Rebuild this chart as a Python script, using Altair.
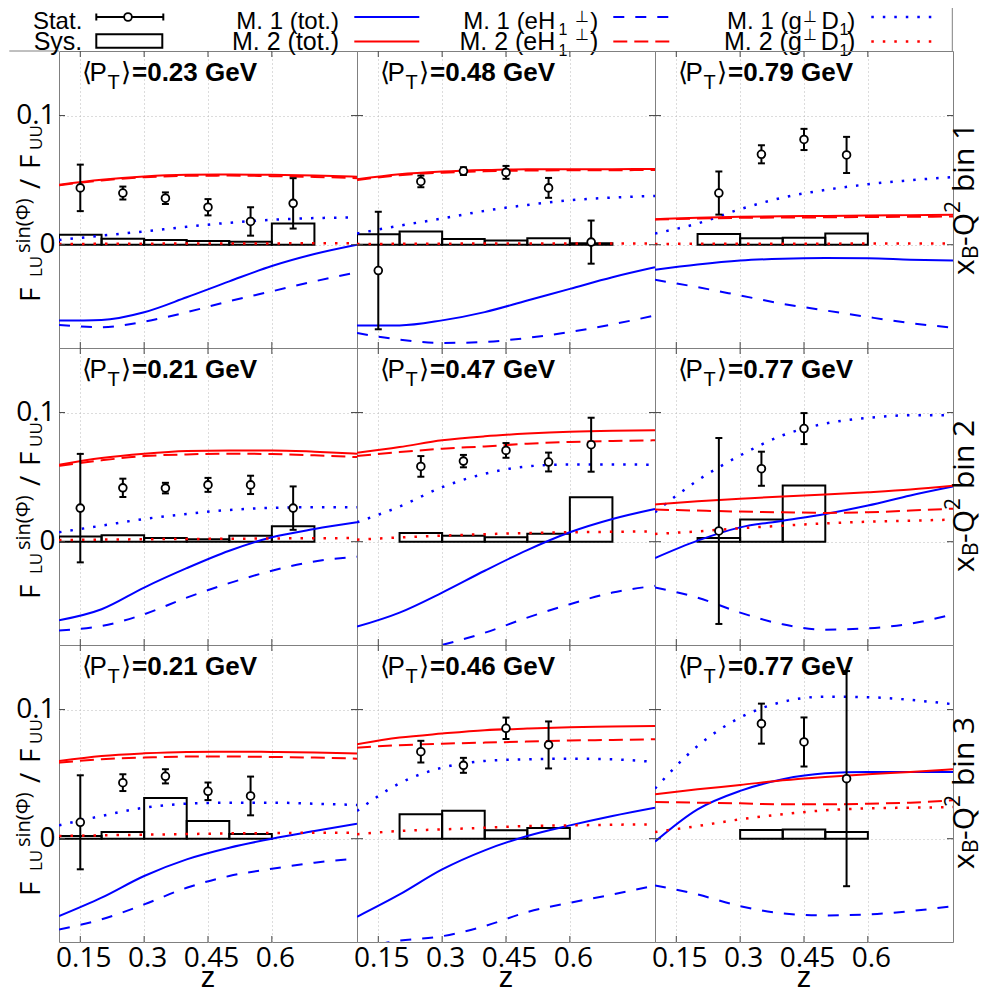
import altair as alt
import pandas as pd

# ---------------- data ----------------
Z_CURVE = [0.1, 0.2, 0.3, 0.4, 0.5, 0.6, 0.7, 0.8]
X_TICKS = [0.15, 0.3, 0.45, 0.6]
Y_TICKS = [0.0, 0.1]
PT_LABELS = ["0.23", "0.48", "0.79", "0.21", "0.47", "0.77", "0.21", "0.46", "0.77"]
BIN_LABELS = ["1", "2", "3"]

Z_PTS = [
    [0.15, 0.25, 0.35, 0.45, 0.55, 0.65],
    [0.15, 0.25, 0.35, 0.45, 0.55, 0.65],
    [0.25, 0.35, 0.45, 0.55],
    [0.15, 0.25, 0.35, 0.45, 0.55, 0.65],
    [0.25, 0.35, 0.45, 0.55, 0.65],
    [0.25, 0.35, 0.45],
    [0.15, 0.25, 0.35, 0.45, 0.55],
    [0.25, 0.35, 0.45, 0.55],
    [0.35, 0.45, 0.55],
]
ASYM = [
    [0.044, 0.040, 0.036, 0.029, 0.018, 0.032],
    [-0.020, 0.049, 0.057, 0.056, 0.044, 0.002],
    [0.040, 0.070, 0.0815, 0.0695],
    [0.026, 0.0417, 0.0415, 0.044, 0.044, 0.026],
    [0.0583, 0.0624, 0.0707, 0.0617, 0.0751],
    [0.0083, 0.0565, 0.0876],
    [0.0127, 0.0434, 0.0483, 0.0367, 0.0331],
    [0.0674, 0.0568, 0.0855, 0.0726],
    [0.0891, 0.0749, 0.0465],
]
STAT = [
    [0.018, 0.005, 0.0045, 0.0063, 0.011, 0.0195],
    [0.0455, 0.0045, 0.003, 0.005, 0.0077, 0.0167],
    [0.0167, 0.007, 0.0082, 0.014],
    [0.042, 0.0071, 0.0041, 0.0054, 0.0071, 0.0168],
    [0.008, 0.0048, 0.0057, 0.0073, 0.0209],
    [0.072, 0.0132, 0.012],
    [0.0364, 0.0065, 0.0055, 0.0068, 0.015],
    [0.0084, 0.0058, 0.0083, 0.0182],
    [0.0155, 0.019, 0.0833],
]
SYS = [
    [0.0077, 0.0046, 0.0036, 0.0028, 0.0023, 0.0165],
    [0.0080, 0.0103, 0.0044, 0.0033, 0.0049, 0.0012],
    [0.0082, 0.0049, 0.0054, 0.0087],
    [0.0041, 0.0049, 0.0028, 0.0018, 0.0047, 0.0119],
    [0.0067, 0.0047, 0.0034, 0.0062, 0.0345],
    [0.0028, 0.0171, 0.0435],
    [0.0021, 0.0052, 0.0315, 0.0137, 0.0036],
    [0.0189, 0.0217, 0.0065, 0.0083],
    [0.0067, 0.0072, 0.0052],
]
M1_TOT = [
    [-0.0588, -0.0583, -0.0523, -0.0407, -0.0284, -0.0165, -0.0072, 0.0000],
    [-0.0625, -0.0625, -0.0586, -0.0522, -0.0432, -0.0342, -0.0252, -0.0175],
    [-0.0195, -0.0154, -0.0123, -0.0108, -0.0103, -0.0105, -0.0116, -0.0123],
    [-0.0609, -0.0523, -0.0355, -0.0205, -0.0070, 0.0034, 0.0098, 0.0150],
    [-0.0658, -0.0549, -0.0394, -0.0225, -0.0065, 0.0073, 0.0176, 0.0254],
    [-0.0127, 0.0008, 0.0111, 0.0163, 0.0215, 0.0280, 0.0358, 0.0427],
    [-0.0600, -0.0457, -0.0289, -0.0160, -0.0070, 0.0000, 0.0059, 0.0116],
    [-0.0605, -0.0432, -0.0238, -0.0090, 0.0021, 0.0103, 0.0176, 0.0240],
    [-0.0023, 0.0227, 0.0370, 0.0460, 0.0506, 0.0517, 0.0517, 0.0517],
]
M1_EH = [
    [-0.0621, -0.0639, -0.0596, -0.0523, -0.0438, -0.0361, -0.0284, -0.0214],
    [-0.0684, -0.0735, -0.0761, -0.0753, -0.0722, -0.0676, -0.0617, -0.0548],
    [-0.0272, -0.0329, -0.0393, -0.0458, -0.0509, -0.0560, -0.0607, -0.0643],
    [-0.0687, -0.0653, -0.0562, -0.0433, -0.0321, -0.0225, -0.0153, -0.0117],
    [-0.0950, -0.0880, -0.0800, -0.0705, -0.0588, -0.0484, -0.0394, -0.0342],
    [-0.0355, -0.0433, -0.0549, -0.0640, -0.0681, -0.0671, -0.0635, -0.0562],
    [-0.0703, -0.0625, -0.0509, -0.0380, -0.0289, -0.0233, -0.0186, -0.0155],
    [-0.0850, -0.0790, -0.0755, -0.0677, -0.0568, -0.0496, -0.0432, -0.0362],
    [-0.0362, -0.0432, -0.0522, -0.0579, -0.0594, -0.0587, -0.0561, -0.0522],
]
M1_GD = [
    [0.0036, 0.0070, 0.0103, 0.0139, 0.0170, 0.0193, 0.0206, 0.0211],
    [0.0087, 0.0147, 0.0203, 0.0262, 0.0308, 0.0344, 0.0365, 0.0378],
    [0.0087, 0.0164, 0.0275, 0.0365, 0.0424, 0.0468, 0.0499, 0.0524],
    [0.0073, 0.0124, 0.0176, 0.0215, 0.0246, 0.0262, 0.0267, 0.0267],
    [0.0150, 0.0272, 0.0422, 0.0526, 0.0583, 0.0598, 0.0598, 0.0596],
    [0.0228, 0.0474, 0.0668, 0.0824, 0.0915, 0.0959, 0.0979, 0.0979],
    [0.0103, 0.0176, 0.0240, 0.0271, 0.0279, 0.0279, 0.0271, 0.0261],
    [0.0214, 0.0429, 0.0550, 0.0602, 0.0615, 0.0620, 0.0615, 0.0594],
    [0.0388, 0.0718, 0.0938, 0.1060, 0.1100, 0.1096, 0.1075, 0.1041],
]
M2_TOT = [
    [0.0464, 0.0503, 0.0528, 0.0541, 0.0544, 0.0541, 0.0536, 0.0526],
    [0.0506, 0.0545, 0.0566, 0.0578, 0.0584, 0.0584, 0.0585, 0.0586],
    [0.0198, 0.0208, 0.0216, 0.0220, 0.0223, 0.0226, 0.0229, 0.0231],
    [0.0596, 0.0648, 0.0681, 0.0702, 0.0707, 0.0707, 0.0697, 0.0681],
    [0.0689, 0.0733, 0.0785, 0.0816, 0.0837, 0.0852, 0.0860, 0.0863],
    [0.0288, 0.0313, 0.0332, 0.0350, 0.0365, 0.0383, 0.0404, 0.0433],
    [0.0602, 0.0641, 0.0661, 0.0672, 0.0674, 0.0672, 0.0667, 0.0659],
    [0.0731, 0.0783, 0.0814, 0.0840, 0.0853, 0.0863, 0.0868, 0.0873],
    [0.0344, 0.0382, 0.0416, 0.0452, 0.0478, 0.0499, 0.0517, 0.0537],
]
M2_EH = [
    [0.0460, 0.0498, 0.0522, 0.0533, 0.0535, 0.0531, 0.0525, 0.0515],
    [0.0500, 0.0538, 0.0558, 0.0568, 0.0574, 0.0576, 0.0577, 0.0578],
    [0.0195, 0.0202, 0.0208, 0.0210, 0.0212, 0.0214, 0.0216, 0.0218],
    [0.0588, 0.0630, 0.0663, 0.0676, 0.0681, 0.0679, 0.0669, 0.0655],
    [0.0663, 0.0694, 0.0720, 0.0738, 0.0759, 0.0772, 0.0780, 0.0785],
    [0.0249, 0.0241, 0.0233, 0.0228, 0.0223, 0.0228, 0.0241, 0.0256],
    [0.0589, 0.0615, 0.0628, 0.0636, 0.0636, 0.0633, 0.0628, 0.0620],
    [0.0705, 0.0724, 0.0736, 0.0744, 0.0752, 0.0760, 0.0765, 0.0770],
    [0.0284, 0.0279, 0.0274, 0.0266, 0.0266, 0.0271, 0.0279, 0.0297],
]
M2_GD = [
    [0.0005, 0.0007, 0.0008, 0.0009, 0.0010, 0.0010, 0.0011, 0.0011],
    [0.0005, 0.0007, 0.0008, 0.0009, 0.0009, 0.0010, 0.0010, 0.0010],
    [0.0006, 0.0007, 0.0008, 0.0008, 0.0008, 0.0009, 0.0009, 0.0009],
    [0.0013, 0.0016, 0.0019, 0.0021, 0.0023, 0.0025, 0.0027, 0.0028],
    [0.0016, 0.0033, 0.0047, 0.0058, 0.0067, 0.0073, 0.0077, 0.0080],
    [0.0060, 0.0080, 0.0104, 0.0124, 0.0142, 0.0155, 0.0163, 0.0171],
    [0.0021, 0.0026, 0.0031, 0.0036, 0.0041, 0.0044, 0.0046, 0.0047],
    [0.0034, 0.0060, 0.0072, 0.0085, 0.0098, 0.0103, 0.0108, 0.0111],
    [0.0052, 0.0098, 0.0150, 0.0189, 0.0220, 0.0235, 0.0240, 0.0245],
]

# ---------------- styling ----------------
W, H = 298, 297
XS = alt.Scale(domain=[0.1, 0.8], nice=False, zero=False)
YS = alt.Scale(domain=[-0.08, 0.15], nice=False, zero=False)
BLUE, RED = "#0000ff", "#ff0000"
AXF = "Open Sans"
TXF = "Liberation Sans"
GRID = "#b8b8b8"
FRAME = "#808080"
DASH_B = [11, 11]
DASH_R = [14, 7]
DOT = [2.5, 9]
DUMMY = pd.DataFrame({"k": [0]})

SERIES = [
    (M1_TOT, BLUE, None),
    (M1_EH, BLUE, DASH_B),
    (M1_GD, BLUE, DOT),
    (M2_TOT, RED, None),
    (M2_EH, RED, DASH_R),
    (M2_GD, RED, DOT),
]

XAX = alt.Axis(values=X_TICKS, grid=True, gridDash=[1, 3], gridColor=GRID,
               domain=False, ticks=False, labels=False, title=None)


def yaxis(show):
    return alt.Axis(values=Y_TICKS, format="~g", grid=True, gridDash=[1, 3], gridColor=GRID,
                    domain=False, ticks=False, tickSize=0, labels=show, labelFont=AXF,
                    labelFontSize=28, labelColor="black", labelPadding=4, labelFlush=False,
                    labelOverlap=False, title=None)


def text(s, x, y, size, font=TXF, weight="normal", align="left", angle=None):
    kw = dict(text=s, font=font, fontSize=size, fontWeight=weight, align=align,
              baseline="alphabetic", color="black")
    if angle is not None:
        kw["angle"] = angle
    return alt.Chart(DUMMY).mark_text(**kw).encode(x=alt.value(x), y=alt.value(y))


def hrule(x1, x2, y, color, width=2, dash=None):
    kw = dict(color=color, strokeWidth=width)
    if dash:
        kw["strokeDash"] = dash
    return alt.Chart(DUMMY).mark_rule(**kw).encode(x=alt.value(x1), x2=alt.value(x2), y=alt.value(y))


def vrule(x, y1, y2, color, width=2):
    return alt.Chart(DUMMY).mark_rule(color=color, strokeWidth=width).encode(
        x=alt.value(x), y=alt.value(y1), y2=alt.value(y2))


def legend_layers():
    L = []
    R1, R2 = -22, -1
    S1, S2 = -34, -9.5
    # legend frame
    L.append(hrule(-49.7, 893.3, -48.3, FRAME, 1))
    L.append(vrule(893.3, -48.3, 0, FRAME, 1))
    L.append(hrule(-49.7, 0, 0, FRAME, 1))
    # Stat.
    L.append(text("Stat.", 23.3, R1, 24, align="right"))
    L.append(hrule(37.3, 104.3, S1, "black", 2))
    L.append(vrule(37.3, S1 - 3.5, S1 + 3.5, "black", 2))
    L.append(vrule(104.3, S1 - 3.5, S1 + 3.5, "black", 2))
    L.append(alt.Chart(DUMMY).mark_point(shape="circle", size=60, filled=True, fill="white",
                                         stroke="black", strokeWidth=1.8, opacity=1)
             .encode(x=alt.value(69), y=alt.value(S1)))
    # Sys.
    L.append(text("Sys.", 23.3, R2, 25, align="right"))
    L.append(alt.Chart(DUMMY).mark_rect(fillOpacity=0, stroke="black", strokeWidth=2)
             .encode(x=alt.value(37.3), x2=alt.value(103.3), y=alt.value(-16.7), y2=alt.value(-3.3)))
    for m, rb, sy, col, fs in [("1", R1, S1, BLUE, 24), ("2", R2, S2, RED, 25)]:
        sup = rb - 7 if m == "1" else rb - 10
        L.append(text("M. %s (tot.)" % m, 280, rb, fs, align="right"))
        L.append(hrule(295.3, 360.3, sy, col, 2))
        L.append(text("M. %s (eH" % m, 496.3, rb, fs, align="right"))
        L.append(text("1", 508.3, rb + 6, 16, align="right"))
        L.append(text("⊥", 529.8, sup, 16, align="right"))
        L.append(text(")", 539.3, rb, fs, align="right"))
        L.append(hrule(554.3, 614.3, sy, col, 2, DASH_B if col == BLUE else DASH_R))
        L.append(text("M. %s (g" % m, 742.8, rb, fs, align="right"))
        L.append(text("⊥", 757.8, sup, 16, align="right"))
        L.append(text("D", 779.8, rb, fs, align="right"))
        L.append(text("1", 789.3, rb + 6, 16, align="right"))
        L.append(text(")", 796.3, rb, fs, align="right"))
        L.append(hrule(812.3, 872.3, sy, col, 2.5, DOT))
    return L


def panel(i):
    r, c = divmod(i, 3)
    ya = yaxis(c == 0)

    def X(f):
        return alt.X(f, scale=XS, axis=XAX)

    def Y(f):
        return alt.Y(f, scale=YS, axis=ya)

    layers = []
    pts = alt.Chart(pd.DataFrame({"z": Z_PTS[i], "a": ASYM[i], "e": STAT[i], "s": SYS[i]})) \
        .transform_calculate(lo="datum.a - datum.e", hi="datum.a + datum.e",
                             b0="datum.z - 0.05", b1="datum.z + 0.05", base="0")
    # systematic boxes
    layers.append(pts.mark_rect(fillOpacity=0, stroke="black", strokeWidth=2, clip=True)
                  .encode(x=X("b0:Q"), x2="b1:Q", y=Y("base:Q"), y2="s:Q"))
    # model curves
    for vals, col, dash in SERIES:
        kw = dict(color=col, strokeWidth=2 if dash != DOT else 2.5, interpolate="monotone", clip=True)
        if dash:
            kw["strokeDash"] = dash
        layers.append(alt.Chart(pd.DataFrame({"z": Z_CURVE, "v": vals[i]}))
                      .mark_line(**kw).encode(x=X("z:Q"), y=Y("v:Q")))
    # stat error bars
    layers.append(pts.mark_rule(color="black", strokeWidth=2, clip=True)
                  .encode(x=X("z:Q"), y=Y("lo:Q"), y2="hi:Q"))
    for f in ["lo:Q", "hi:Q"]:
        layers.append(pts.mark_tick(orient="horizontal", size=7, thickness=2, color="black", opacity=1)
                      .encode(x=X("z:Q"), y=Y(f)))
    layers.append(pts.mark_point(shape="circle", size=60, filled=True, fill="white", stroke="black",
                                 strokeWidth=1.8, opacity=1).encode(x=X("z:Q"), y=Y("a:Q")))
    # inward ticks
    tx = alt.Chart(pd.DataFrame({"t": X_TICKS}))
    ty = alt.Chart(pd.DataFrame({"t": Y_TICKS}))
    layers.append(tx.mark_rule(color="#444", strokeWidth=1).encode(x=X("t:Q"), y=alt.value(0), y2=alt.value(6)))
    layers.append(tx.mark_rule(color="#444", strokeWidth=1).encode(x=X("t:Q"), y=alt.value(H), y2=alt.value(H - 6)))
    layers.append(ty.mark_rule(color="#444", strokeWidth=1).encode(y=Y("t:Q"), x=alt.value(0), x2=alt.value(6)))
    layers.append(ty.mark_rule(color="#444", strokeWidth=1).encode(y=Y("t:Q"), x=alt.value(W), x2=alt.value(W - 6)))
    # panel title  <P_T>=... GeV
    layers.append(text("⟨", 23, 29.5, 26, font="DejaVu Sans"))
    layers.append(text("P", 30.5, 29.5, 26))
    layers.append(text("T", 48.5, 38, 20))
    layers.append(text("⟩", 62, 29.5, 26, font="DejaVu Sans"))
    layers.append(text("=" + PT_LABELS[i] + " GeV", 73, 29.5, 26, weight="bold"))
    # y title on the left column
    if c == 0:
        layers.append(text("F", -19.5, 251, 28, font=AXF, angle=270))
        layers.append(text("LU", -17.5, 226, 17, font=AXF, angle=270))
        layers.append(text("sin(Φ)", -29, 202, 20, font=AXF, angle=270))
        layers.append(text("/", -19.5, 138, 28, font=AXF, angle=270))
        layers.append(text("F", -19.5, 118, 28, font=AXF, angle=270))
        layers.append(text("UU", -17.5, 99, 17, font=AXF, angle=270))
    # row label on the right column
    if c == 2:
        layers.append(text("x", 319, 224, 30, font=AXF, angle=270))
        layers.append(text("B", 323, 208, 21, font=AXF, angle=270))
        layers.append(text("-Q", 319, 195, 30, font=AXF, angle=270))
        layers.append(text("2", 305, 162, 21, font=AXF, angle=270))
        layers.append(text("bin " + BIN_LABELS[r], 319, 141, 30, font=AXF, angle=270))
    # x tick labels and title on the bottom row
    if r == 2:
        layers.append(tx.mark_text(font=AXF, fontSize=28, baseline="alphabetic", align="center",
                                   dx=3.5, color="black")
                      .encode(x=X("t:Q"), y=alt.value(H + 25), text=alt.Text("t:Q", format=".2~f")))
        layers.append(text("z", W / 2, H + 45, 29, font=TXF, align="center"))
    if i == 0:
        layers.extend(legend_layers())
    return alt.layer(*layers).properties(width=W, height=H)


chart = alt.concat(*[panel(i) for i in range(9)], columns=3, spacing=0, bounds="flush") \
    .properties(padding={"left": 0, "top": -7, "right": 0, "bottom": 0}, background="white") \
    .configure_view(stroke=FRAME, strokeWidth=1)

chart.save("out.html", embed_options={"renderer": "svg", "actions": False})
